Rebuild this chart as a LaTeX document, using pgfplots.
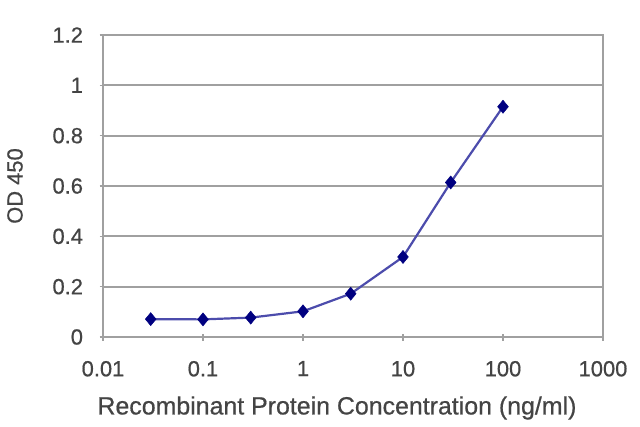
\documentclass[border=0pt]{standalone}
\usepackage{pgfplots}
\pgfplotsset{compat=1.18}
\usepackage{fontspec}
\setmainfont[FakeBold=0.6]{Liberation Sans}
\definecolor{gridgray}{HTML}{A0A0A0}
\definecolor{txtgray}{HTML}{444444}
\definecolor{linecol}{HTML}{4C4CAC}
\definecolor{markcol}{HTML}{000080}
\begin{document}
\begin{tikzpicture}
\begin{axis}[
  scale only axis,
  width=500bp, height=302bp,
  xmode=log,
  xmin=0.01, xmax=1000,
  ymin=0, ymax=1.2,
  xtick={0.01,0.1,1,10,100,1000},
  xticklabels={0.01,0.1,1,10,100,1000},
  ytick={0,0.2,0.4,0.6,0.8,1,1.2},
  yticklabels={0,0.2,0.4,0.6,0.8,1,1.2},
  xminorticks=false,
  yminorticks=false,
  xtick pos=bottom,
  ytick pos=left,
  tick align=center,
  major tick length=7bp,
  tick style={gridgray, line width=1.5bp},
  axis line style={gridgray, line width=1.8bp},
  ymajorgrids,
  grid style={gridgray, line width=1.8bp},
  every tick label/.append style={font=\fontsize{22}{26}\selectfont, text=txtgray},
  xticklabel style={yshift=-17bp},
  yticklabel style={xshift=-13bp},
  xlabel={Recombinant Protein Concentration (ng/ml)},
  ylabel={OD 450},
  every axis x label/.style={at={(rel axis cs:0.5,0)}, anchor=center, yshift=-71bp, xshift=-16bp, font=\fontsize{25}{30}\selectfont, text=txtgray},
  every axis y label/.style={at={(rel axis cs:0,0.5)}, anchor=center, rotate=90, yshift=88bp, font=\fontsize{22}{26}\selectfont, text=txtgray},
  clip=false,
]
\addplot[color=linecol, line width=2.2bp, mark=diamond*, mark size=6.5bp, mark options={fill=markcol, draw=markcol, line width=0.5bp, xscale=1.1}]
  coordinates {
    (0.03,0.071)
    (0.1,0.070)
    (0.3,0.077)
    (1,0.102)
    (3,0.172)
    (10,0.318)
    (30,0.614)
    (100,0.915)
  };
\end{axis}
\path ([shift={(-103bp,-90bp)}]current axis.south west) rectangle ++(640bp,427bp);
\end{tikzpicture}
\end{document}
